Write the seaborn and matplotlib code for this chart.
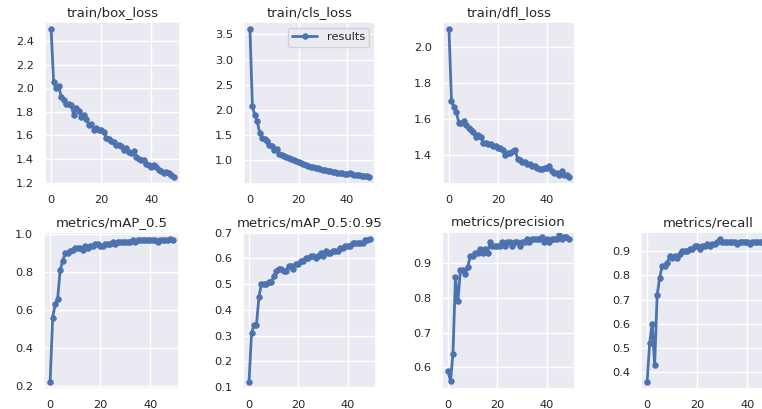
import numpy as np
import pandas as pd
import matplotlib
matplotlib.use("Agg")
import matplotlib.pyplot as plt
from matplotlib.ticker import MultipleLocator
import seaborn as sns

# ------------------------------------------------------------
# data (50 epochs)
# ------------------------------------------------------------
epochs = list(range(50))

box_loss = [2.50, 2.05, 2.00, 2.02, 1.93, 1.90, 1.87, 1.87, 1.86, 1.77,
            1.83, 1.81, 1.76, 1.77, 1.74, 1.69, 1.70, 1.65, 1.66, 1.65,
            1.65, 1.63, 1.58, 1.57, 1.55, 1.54, 1.52, 1.52, 1.51, 1.48,
            1.49, 1.46, 1.45, 1.47, 1.42, 1.40, 1.39, 1.39, 1.36, 1.35,
            1.33, 1.35, 1.33, 1.31, 1.30, 1.28, 1.29, 1.28, 1.26, 1.25]

cls_loss = [3.60, 2.08, 1.90, 1.78, 1.55, 1.45, 1.42, 1.38, 1.30, 1.28,
            1.20, 1.22, 1.12, 1.10, 1.08, 1.06, 1.04, 1.02, 1.00, 0.99,
            0.97, 0.95, 0.93, 0.92, 0.90, 0.88, 0.87, 0.86, 0.85, 0.83,
            0.82, 0.81, 0.80, 0.79, 0.78, 0.77, 0.76, 0.75, 0.75, 0.74,
            0.74, 0.75, 0.73, 0.72, 0.71, 0.71, 0.70, 0.70, 0.69, 0.68]

dfl_loss = [2.10, 1.70, 1.67, 1.64, 1.58, 1.58, 1.59, 1.57, 1.55, 1.54,
            1.53, 1.50, 1.51, 1.50, 1.47, 1.47, 1.46, 1.46, 1.45, 1.45,
            1.44, 1.44, 1.43, 1.40, 1.41, 1.41, 1.42, 1.43, 1.38, 1.37,
            1.36, 1.36, 1.35, 1.35, 1.34, 1.34, 1.33, 1.32, 1.32, 1.33,
            1.33, 1.34, 1.31, 1.30, 1.30, 1.29, 1.31, 1.29, 1.29, 1.28]

map50 = [0.22, 0.56, 0.63, 0.66, 0.81, 0.86, 0.90, 0.90, 0.91, 0.92,
         0.93, 0.93, 0.93, 0.92, 0.94, 0.93, 0.94, 0.94, 0.95, 0.95,
         0.94, 0.94, 0.95, 0.95, 0.95, 0.96, 0.95, 0.96, 0.96, 0.96,
         0.96, 0.96, 0.96, 0.97, 0.96, 0.97, 0.97, 0.97, 0.97, 0.97,
         0.97, 0.97, 0.97, 0.96, 0.97, 0.97, 0.97, 0.97, 0.975, 0.97]

map50_95 = [0.12, 0.31, 0.34, 0.34, 0.45, 0.50, 0.50, 0.50, 0.51, 0.51,
            0.53, 0.55, 0.56, 0.56, 0.55, 0.55, 0.57, 0.57, 0.56, 0.58,
            0.58, 0.59, 0.59, 0.60, 0.60, 0.61, 0.61, 0.60, 0.61, 0.62,
            0.61, 0.63, 0.62, 0.62, 0.63, 0.63, 0.63, 0.64, 0.64, 0.65,
            0.65, 0.65, 0.66, 0.66, 0.66, 0.66, 0.66, 0.67, 0.67, 0.675]

precision = [0.59, 0.56, 0.64, 0.86, 0.79, 0.88, 0.88, 0.87, 0.89, 0.92,
             0.92, 0.93, 0.93, 0.94, 0.93, 0.94, 0.93, 0.96, 0.95, 0.95,
             0.95, 0.95, 0.96, 0.95, 0.96, 0.96, 0.95, 0.96, 0.96, 0.95,
             0.96, 0.96, 0.97, 0.96, 0.97, 0.97, 0.97, 0.97, 0.975, 0.96,
             0.97, 0.96, 0.97, 0.97, 0.97, 0.98, 0.97, 0.975, 0.975, 0.97]

recall = [0.36, 0.52, 0.60, 0.43, 0.72, 0.79, 0.84, 0.84, 0.85, 0.88,
          0.87, 0.88, 0.87, 0.89, 0.90, 0.90, 0.90, 0.91, 0.91, 0.92,
          0.92, 0.91, 0.92, 0.92, 0.93, 0.92, 0.93, 0.93, 0.94, 0.95,
          0.94, 0.94, 0.94, 0.94, 0.94, 0.94, 0.93, 0.94, 0.94, 0.94,
          0.94, 0.93, 0.94, 0.94, 0.94, 0.94, 0.94, 0.94, 0.94, 0.94]

titles = ["train/box_loss", "train/cls_loss", "train/dfl_loss",
          "metrics/mAP_0.5", "metrics/mAP_0.5:0.95", "metrics/precision",
          "metrics/recall"]
series = [box_loss, cls_loss, dfl_loss, map50, map50_95, precision, recall]
ysteps = [0.2, 0.5, 0.2, 0.2, 0.1, 0.1, 0.1]

# ------------------------------------------------------------
# layout (pixel boxes of the reference, 762x409)
# ------------------------------------------------------------
W, H = 762, 409
boxes = [
    (45, 22, 135, 162), (244, 22, 131, 162), (443, 22, 132, 162),
    (44, 232, 135, 157), (243, 232, 133, 157), (442, 232, 133, 157),
    (641, 232, 135, 157),
]

sns.set_theme(style="darkgrid")
plt.rcParams["font.family"] = ["DejaVu Sans"]
color = "#4C72B0"

fig = plt.figure(figsize=(W / 100, H / 100), dpi=100)

for (x0, y0, w, h), title, vals, step in zip(boxes, titles, series, ysteps):
    ax = fig.add_axes([x0 / W, 1 - (y0 + h) / H, w / W, h / H])
    df = pd.DataFrame({"epoch": epochs, "value": vals})
    is_cls = title == "train/cls_loss"
    sns.lineplot(data=df, x="epoch", y="value", ax=ax, color=color,
                 marker=".", markersize=8, linewidth=2.0,
                 markeredgecolor=color, markeredgewidth=0.6,
                 label="results" if is_cls else None, legend=is_cls)
    ax.set_title(title, fontsize=9.5, pad=4)
    ax.set(xlabel="", ylabel="")
    ax.xaxis.set_major_locator(MultipleLocator(20))
    ax.yaxis.set_major_locator(MultipleLocator(step))
    ax.tick_params(labelsize=8.2, pad=2)
    if title == "metrics/precision":
        ax.set_ylim(0.538, 0.99)
    if is_cls:
        ax.legend(loc="upper right", fontsize=8.2, handlelength=2.2,
                  borderpad=0.4)

fig.savefig("out.png", dpi=100)
